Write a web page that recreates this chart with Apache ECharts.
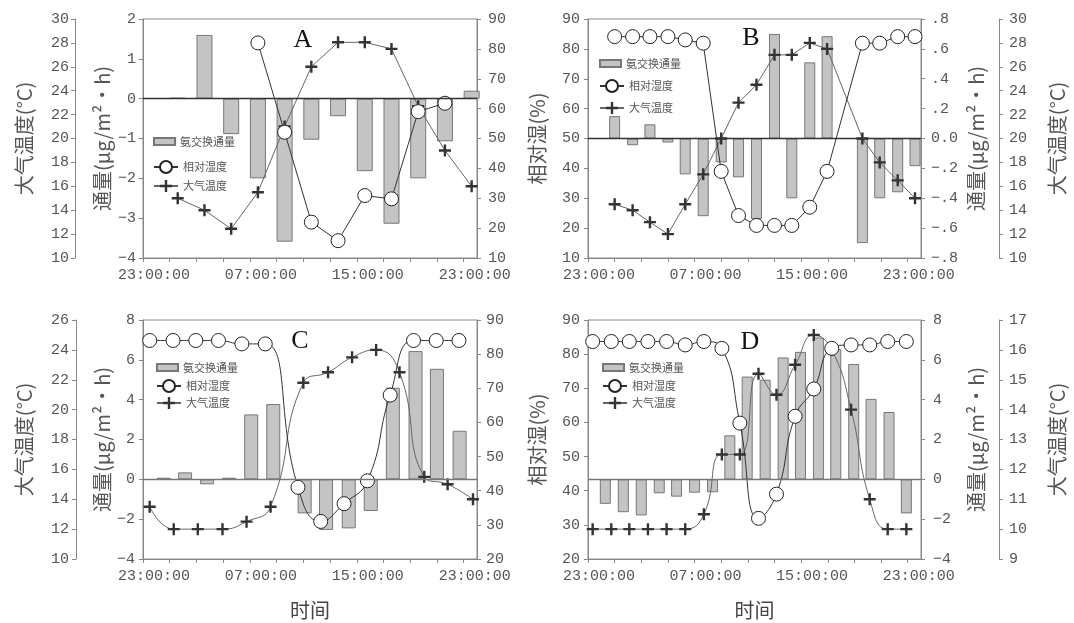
<!DOCTYPE html>
<html>
<head>
<meta charset="utf-8">
<script src="https://cdn.jsdelivr.net/npm/echarts@6/dist/echarts.min.js"></script>
<style>
html, body { margin: 0; padding: 0; background: #fff; }
#main { width: 1074px; height: 623px; }
</style>
</head>
<body>
<div id="main"></div>
<script>
// 横轴: 以 23:00 为 0 的小时数
var xTickHours = [0, 2, 4, 6, 8, 10, 12, 14, 16, 18, 20, 22, 24];
var xLabelHours = [0, 8, 16, 24];
var xLabels = ['23:00:00', '07:00:00', '15:00:00', '23:00:00'];

// A
var aHours = [2.6, 4.6, 6.6, 8.6, 10.6, 12.6, 14.6, 16.6, 18.6, 20.6, 22.6, 24.6];
var aFlux = [0.02, 1.6, -0.89, -2.0, -3.59, -1.03, -0.44, -1.82, -3.14, -2.0, -1.07, 0.2];
var aTemp = [15.0, 14.0, 12.45, 15.5, 21.0, 26.0, 28.05, 28.05, 27.5, 22.7, 19.0, 16.0];
var aRhHours = [8.6, 10.6, 12.6, 14.6, 16.6, 18.6, 20.6, 22.6];
var aRh = [82.0, 52.1, 22.0, 15.8, 30.9, 29.8, 59.0, 61.8];

// B
var bHours = [2.0, 3.35, 4.65, 6.0, 7.3, 8.65, 10.0, 11.3, 12.65, 14.0, 15.3, 16.65, 17.95, 20.6, 21.9, 23.25, 24.55];
var bFlux = [0.15, -0.045, 0.095, -0.027, -0.24, -0.52, -0.16, -0.26, -0.54, 0.70, -0.40, 0.51, 0.685, -0.70, -0.40, -0.36, -0.185];
var bRh = [84.1, 84.1, 84.1, 84.1, 83.0, 81.9, 39.0, 24.2, 20.9, 20.9, 20.9, 27.0, 39.0, 81.9, 81.9, 84.1, 84.1];
var bTemp = [14.5, 14.0, 13.0, 12.0, 14.5, 17.0, 20.0, 23.0, 24.5, 27.0, 27.0, 28.0, 27.5, 20.0, 18.0, 16.5, 15.0];

// C
var cBarHours = [1.55, 3.15, 4.8, 6.45, 8.1, 9.75, 12.1, 13.7, 15.4, 17.05, 18.7, 20.4, 22.0, 23.7];
var cFlux = [0.08, 0.35, -0.25, 0.08, 3.26, 3.78, -1.71, -2.54, -2.46, -1.59, 4.6, 6.44, 5.55, 2.44];
var cRhHours = [0.5, 2.25, 3.95, 5.65, 7.4, 9.15, 11.6, 13.3, 15.05, 16.8, 18.5, 20.25, 21.95, 23.65];
var cRh = [84, 84, 84, 84, 83, 83, 41, 31, 36.2, 42.9, 68, 84, 84, 84];
var cTempHours = [0.5, 2.3, 4.1, 5.95, 7.75, 9.55, 12.0, 13.85, 15.65, 17.45, 19.2, 21.05, 22.8, 24.7];
var cTemp = [13.5, 12.0, 12.0, 12.0, 12.5, 13.5, 21.8, 22.5, 23.5, 24.0, 22.5, 15.5, 15.0, 14.0];

// D
var dBarHours = [1.3, 2.65, 4.0, 5.35, 6.65, 8.0, 9.35, 10.65, 11.95, 13.3, 14.65, 15.95, 17.3, 18.6, 19.95, 21.25, 22.6, 23.9];
var dFlux = [-1.23, -1.65, -1.81, -0.70, -0.87, -0.67, -0.65, 2.21, 5.16, 5.0, 6.12, 6.4, 7.12, 6.54, 5.79, 4.04, 3.38, -1.71];
var dHours = [0.35, 1.75, 3.1, 4.5, 5.9, 7.3, 8.7, 10.05, 11.4, 12.8, 14.15, 15.55, 16.95, 18.3, 19.75, 21.15, 22.5, 23.9];
var dRh = [83.7, 83.7, 83.7, 83.7, 83.7, 82.7, 83.7, 81.7, 59.8, 31.9, 39.0, 61.8, 69.8, 81.7, 82.7, 82.7, 83.7, 83.7];
var dTemp = [10, 10, 10, 10, 10, 10, 10.5, 12.5, 12.5, 15.2, 14.5, 15.5, 16.5, 16.0, 14.0, 11.0, 10.0, 10.0];

var mono = "'Liberation Mono', monospace";
var cjk = "'Noto Sans CJK SC', sans-serif";
var fluxName = '通量(μg/m²•h)';
var plus = 'path://M4,0H6V4H10V6H6V10H4V6H0V4H4Z';

function pairs(xs, ys) {
	return xs.map(function (x, i) { return [x, ys[i]]; });
}
function minus(v) {
	return String(v).replace('-', '−');
}
function dotFmt(v) {
	var s = v.toFixed(1);
	if (s === '0.0' || s === '-0.0') return '0.0';
	return s.replace('0.', '.').replace('-', '−');
}

function xAx(grid, name) {
	return {
		type: 'value', gridIndex: grid, min: 0, max: 25,
		name: name || '', nameLocation: 'middle', nameGap: 41,
		nameTextStyle: { fontFamily: cjk, fontSize: 20, color: '#444' },
		axisLine: { onZero: false, lineStyle: { color: '#888' } },
		axisTick: { customValues: xTickHours, length: 4, lineStyle: { color: '#888' } },
		axisLabel: {
			customValues: xLabelHours, margin: 10, padding: [0, 0, 0, 22],
			color: '#555', fontFamily: mono, fontSize: 15,
			formatter: function (v) { return xLabels[xLabelHours.indexOf(v)]; }
		},
		splitLine: { show: false }
	};
}

function yAx(grid, pos, offset, min, max, interval, name, gap, margin, fmt) {
	return {
		type: 'value', gridIndex: grid, position: pos, offset: offset,
		min: min, max: max, interval: interval,
		name: name, nameLocation: 'middle', nameGap: gap,
		nameTextStyle: { fontFamily: cjk, fontSize: 20, color: '#555' },
		axisLine: { show: true, onZero: false, lineStyle: { color: '#888' } },
		axisTick: { show: true, length: 4, lineStyle: { color: '#888' } },
		axisLabel: { margin: margin, color: '#555', fontFamily: mono, fontSize: 15, formatter: fmt || minus },
		splitLine: { show: false }
	};
}

function barS(idx, hours, vals, width, zeroColor) {
	return {
		name: '氨交换通量', type: 'bar', xAxisIndex: idx, yAxisIndex: idx * 3,
		barWidth: width, data: pairs(hours, vals),
		itemStyle: { color: '#c4c4c4', borderColor: '#777', borderWidth: 1 },
		markLine: {
			silent: true, symbol: 'none', label: { show: false },
			lineStyle: { color: zeroColor, width: 1.3, type: 'solid' },
			data: [{ yAxis: 0 }]
		},
		z: 2
	};
}
function rhS(idx, hours, vals, smooth) {
	return {
		name: '相对湿度', type: 'line', xAxisIndex: idx, yAxisIndex: idx * 3 + 1,
		smooth: smooth, data: pairs(hours, vals),
		symbol: 'circle', symbolSize: 14,
		itemStyle: { color: '#fff', borderColor: '#222', borderWidth: 1 },
		lineStyle: { color: '#333', width: 1 },
		z: 4
	};
}
function tempS(idx, hours, vals, smooth) {
	return {
		name: '大气温度', type: 'line', xAxisIndex: idx, yAxisIndex: idx * 3 + 2,
		smooth: smooth, data: pairs(hours, vals),
		symbol: plus, symbolSize: 12,
		itemStyle: { color: '#333' },
		lineStyle: { color: '#666', width: 1 },
		z: 3
	};
}

var legendText = { fontFamily: cjk, fontSize: 11, color: '#555' };
function legBar(left, top) {
	return { left: left, top: top, orient: 'vertical', selectedMode: false,
		itemWidth: 21, itemHeight: 7, textStyle: legendText,
		data: [{ name: '氨交换通量', icon: 'rect' }] };
}
function legLines(left, top, gap) {
	return { left: left, top: top, orient: 'vertical', selectedMode: false,
		itemWidth: 24, itemHeight: 15, itemGap: gap, textStyle: legendText,
		data: ['相对湿度', '大气温度'] };
}
function letter(t, x, y) {
	return { type: 'text', x: x, y: y,
		style: { text: t, font: "26px 'Liberation Serif', serif", fill: '#111', align: 'center', verticalAlign: 'middle' } };
}

var option = {
	animation: false,
	backgroundColor: '#fff',
	grid: [
		{ left: 143, top: 19, width: 334, height: 239 },
		{ left: 588, top: 19, width: 333, height: 239 },
		{ left: 143, top: 320, width: 334, height: 239 },
		{ left: 588, top: 320, width: 333, height: 239 }
	].map(function (g) {
		g.show = true; g.borderColor = '#888'; g.borderWidth = 1; g.outerBoundsMode = 'none';
		return g;
	}),
	xAxis: [xAx(0), xAx(1), xAx(2, '时间'), xAx(3, '时间')],
	yAxis: [
		// A: 通量, 湿度, 温度
		yAx(0, 'left', 0, -4, 2, 1, fluxName, 31, 7),
		yAx(0, 'right', 0, 10, 90, 10, '', 40, 11),
		yAx(0, 'left', 68, 10, 30, 2, '大气温度(°C)', 41, 6),
		// B
		yAx(1, 'right', 0, -0.8, 0.8, 0.2, fluxName, 45, 10, dotFmt),
		yAx(1, 'left', 0, 10, 90, 10, '相对湿(%)', 41, 8),
		yAx(1, 'right', 78, 10, 30, 2, '大气温度(°C)', 48, 10),
		// C
		yAx(2, 'left', 0, -4, 8, 2, fluxName, 31, 8),
		yAx(2, 'right', 0, 20, 90, 10, '', 40, 9),
		yAx(2, 'left', 67, 10, 26, 2, '大气温度(°C)', 42, 7),
		// D
		yAx(3, 'right', 0, -4, 8, 2, fluxName, 45, 12),
		yAx(3, 'left', 0, 20, 90, 10, '相对湿(%)', 41, 8),
		yAx(3, 'right', 78, 9, 17, 1, '大气温度(°C)', 48, 10)
	],
	legend: [
		legBar(148, 131), legLines(148, 155, 6),
		legBar(594, 53), legLines(594, 74, 9),
		legBar(151, 357), legLines(151, 374, 4),
		legBar(597, 357), legLines(597, 374, 4)
	],
	graphic: [letter('A', 303, 40), letter('B', 751, 38), letter('C', 300, 341), letter('D', 750, 342)],
	series: [
		barS(0, aHours, aFlux, 16, '#333'),
		tempS(0, aHours, aTemp, false),
		rhS(0, aRhHours, aRh, false),

		barS(1, bHours, bFlux, 11, '#333'),
		tempS(1, bHours, bTemp, false),
		rhS(1, bHours, bRh, false),

		barS(2, cBarHours, cFlux, 14, '#777'),
		tempS(2, cTempHours, cTemp, true),
		rhS(2, cRhHours, cRh, true),

		barS(3, dBarHours, dFlux, 11, '#777'),
		tempS(3, dHours, dTemp, true),
		rhS(3, dHours, dRh, true)
	]
};

var myChart = echarts.init(document.getElementById('main'));
myChart.setOption(option);
</script>
</body>
</html>
